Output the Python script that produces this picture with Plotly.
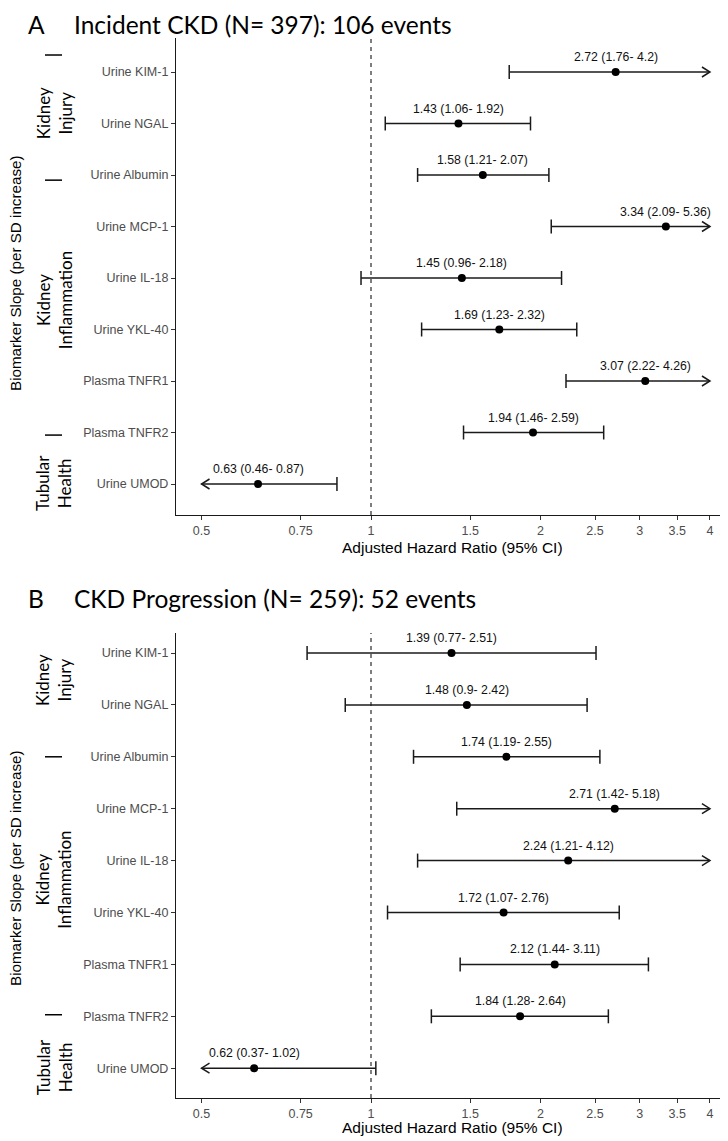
import numpy as np
import plotly.graph_objects as go

# ---------------- data ----------------
biomarkers = ["Urine KIM-1", "Urine NGAL", "Urine Albumin", "Urine MCP-1", "Urine IL-18",
              "Urine YKL-40", "Plasma TNFR1", "Plasma TNFR2", "Urine UMOD"]

# Panel A: Incident CKD
hr_a = [2.72, 1.43, 1.58, 3.34, 1.45, 1.69, 3.07, 1.94, 0.63]
lo_a = [1.76, 1.06, 1.21, 2.09, 0.96, 1.23, 2.22, 1.46, 0.46]
hi_a = [4.2, 1.92, 2.07, 5.36, 2.18, 2.32, 4.26, 2.59, 0.87]

# Panel B: CKD Progression
hr_b = [1.39, 1.48, 1.74, 2.71, 2.24, 1.72, 2.12, 1.84, 0.62]
lo_b = [0.77, 0.9, 1.19, 1.42, 1.21, 1.07, 1.44, 1.28, 0.37]
hi_b = [2.51, 2.42, 2.55, 5.18, 4.12, 2.76, 3.11, 2.64, 1.02]

tick_vals = [0.5, 0.75, 1, 1.5, 2, 2.5, 3, 3.5, 4]
tick_text = ["0.5", "0.75", "1", "1.5", "2", "2.5", "3", "3.5", "4"]
clip_lo, clip_hi = 0.5, 4

title_a = "Incident CKD (N= 397): 106 events"
title_b = "CKD Progression (N= 259): 52 events"
group_labels = ["Kidney<br>Injury", "Kidney<br>Inflammation", "Tubular<br>Health"]
y_title = "Biomarker Slope (per SD increase)"
x_title = "Adjusted Hazard Ratio (95% CI)"

# ---------------- layout helpers ----------------
# the page body adds an 8px margin, so the figure is 8px smaller than the window
OFF = 8
W, H = 728 - OFF, 1141 - OFF


def px_x(p):
    return (p - OFF) / W


def px_y(p):
    return 1 - (p - OFF) / H


SANS = "Liberation Sans, Arial"
TITLE_FONT = "Lato, Open Sans"
LINE_C = "#1a1a1a"
fig = go.Figure()

panels = [
    dict(letter="A", title=title_a, hr=hr_a, lo=lo_a, hi=hi_a, xa="x", ya="y",
         top=38, bottom=515, first=72, step=51.5, title_px=None,
         grp_y=[0.8, 4.43, 7.98], bars=[-0.33, 2.1, 7.05], last_bar=8.76,
         xt_px=547, ytitle_px=273),
    dict(letter="B", title=title_b, hr=hr_b, lo=lo_b, hi=hi_b, xa="x2", ya="y2",
         top=633, bottom=1098, first=653, step=51.9, title_px=598,
         grp_y=[0.52, 4.37, 7.98], bars=[-0.46, 2.0, 6.97], last_bar=8.71,
         xt_px=1127, ytitle_px=868),
]

x_left, x_right = 176, 728
px_per_dec = 563.0
x_range = [(x_left - 371) / px_per_dec, (x_right - 371) / px_per_dec]

annotations = []
shapes = []

for k, p in enumerate(panels):
    xa, ya = p["xa"], p["ya"]
    sfx = "" if k == 0 else "2"
    n = len(biomarkers)
    ys = list(range(n))
    y_top_val = (p["top"] - p["first"]) / p["step"]
    y_bot_val = (p["bottom"] - p["first"]) / p["step"]

    axstyle = dict(showline=True, linecolor="#1a1a1a", linewidth=1.2, ticks="outside",
                   ticklen=4, tickcolor="#333333", tickwidth=1.1, showgrid=False,
                   zeroline=False, tickfont=dict(family=SANS, size=12.5, color="#4d4d4d"))
    fig.layout["xaxis" + sfx] = dict(domain=[px_x(x_left), 1], type="log", range=x_range,
                                      anchor="y" + sfx, tickvals=tick_vals,
                                      ticktext=tick_text, **axstyle)
    fig.layout["yaxis" + sfx] = dict(domain=[px_y(p["bottom"]), px_y(p["top"])],
                                      range=[y_bot_val, y_top_val], anchor="x" + sfx,
                                      tickvals=ys, ticktext=biomarkers, **axstyle)

    shapes.append(dict(type="line", xref=xa, yref=ya + " domain", x0=1, x1=1, y0=0, y1=1,
                       line=dict(color="#2a2a2a", width=1.2, dash="4px,4px"), layer="below"))

    hr, lo, hi = p["hr"], p["lo"], p["hi"]
    lx, ly, cx, cy, ax_, ay_ = [], [], [], [], [], []
    arrow_f = 10 ** (8 / px_per_dec)
    arrow_h = 5 / p["step"]
    for i in ys:
        a = max(lo[i], clip_lo)
        b = min(hi[i], clip_hi)
        lx += [a, b, None]
        ly += [i, i, None]
        if lo[i] >= clip_lo:
            cx.append(a); cy.append(i)
        else:
            ax_ += [a * arrow_f, a, a * arrow_f, None]
            ay_ += [i - arrow_h, i, i + arrow_h, None]
        if hi[i] <= clip_hi:
            cx.append(b); cy.append(i)
        else:
            ax_ += [b / arrow_f, b, b / arrow_f, None]
            ay_ += [i - arrow_h, i, i + arrow_h, None]

    fig.add_trace(go.Scatter(x=lx, y=ly, mode="lines", xaxis=xa, yaxis=ya,
                             line=dict(color=LINE_C, width=1.5), showlegend=False,
                             hoverinfo="skip"))
    fig.add_trace(go.Scatter(x=cx, y=cy, mode="markers", xaxis=xa, yaxis=ya,
                             marker=dict(symbol="line-ns", size=10,
                                         line=dict(color=LINE_C, width=1.5)),
                             showlegend=False, hoverinfo="skip"))
    fig.add_trace(go.Scatter(x=ax_, y=ay_, mode="lines", xaxis=xa, yaxis=ya,
                             line=dict(color=LINE_C, width=1.5), showlegend=False,
                             hoverinfo="skip"))
    fig.add_trace(go.Scatter(x=hr, y=ys, mode="markers", xaxis=xa, yaxis=ya,
                             marker=dict(symbol="circle", size=8, color="black"),
                             showlegend=False, hoverinfo="skip"))

    for i in ys:
        annotations.append(dict(xref=xa, yref=ya, x=np.log10(hr[i]), y=i, yshift=15,
                                text=f"{hr[i]:g} ({lo[i]:g}- {hi[i]:g})", showarrow=False,
                                font=dict(family=SANS, size=12.3, color="#111111")))

    if p["title_px"] is None:
        t_y, t_anchor = 1.0, "top"
    else:
        t_y, t_anchor = px_y(p["title_px"]), "middle"
    annotations.append(dict(xref="paper", yref="paper", x=px_x(26), y=t_y,
                            xanchor="left", yanchor=t_anchor, text=p["letter"],
                            showarrow=False,
                            font=dict(family=TITLE_FONT, size=24.5, color="black")))
    annotations.append(dict(xref="paper", yref="paper", x=px_x(72), y=t_y,
                            xanchor="left", yanchor=t_anchor, text=p["title"],
                            showarrow=False,
                            font=dict(family=TITLE_FONT, size=24.5, color="black")))

    annotations.append(dict(xref=xa + " domain", yref="paper", x=0.5, y=px_y(p["xt_px"]),
                            xanchor="center", yanchor="middle", text=x_title,
                            showarrow=False,
                            font=dict(family=SANS, size=15.5, color="black")))
    annotations.append(dict(xref="paper", yref="paper", x=px_x(15), y=px_y(p["ytitle_px"]),
                            xanchor="center", yanchor="middle", text=y_title, textangle=-90,
                            showarrow=False,
                            font=dict(family=SANS, size=15.2, color="black")))

    for lab, gy in zip(group_labels, p["grp_y"]):
        annotations.append(dict(xref="paper", yref=ya, x=px_x(54), y=gy, text=lab,
                                textangle=-90, showarrow=False, xanchor="center",
                                yanchor="middle",
                                font=dict(family=TITLE_FONT, size=17, color="black")))
    for by in p["bars"]:
        shapes.append(dict(type="line", xref="paper", yref=ya, x0=px_x(45), x1=px_x(62),
                           y0=by, y1=by, line=dict(color="black", width=1.5)))
    shapes.append(dict(type="line", xref="paper", yref=ya, x0=px_x(50), x1=px_x(62),
                       y0=p["last_bar"], y1=p["last_bar"], line=dict(color="black", width=1.5)))
    shapes.append(dict(type="line", xref="paper", yref=ya, x0=px_x(38), x1=px_x(38),
                       y0=p["last_bar"] - 5 / p["step"], y1=p["last_bar"] + 5 / p["step"],
                       line=dict(color="black", width=1.5)))

fig.update_layout(width=W, height=H, margin=dict(l=0, r=0, t=0, b=0),
                  plot_bgcolor="white", paper_bgcolor="white",
                  annotations=annotations, shapes=shapes, showlegend=False)

fig.write_html("out.html")
